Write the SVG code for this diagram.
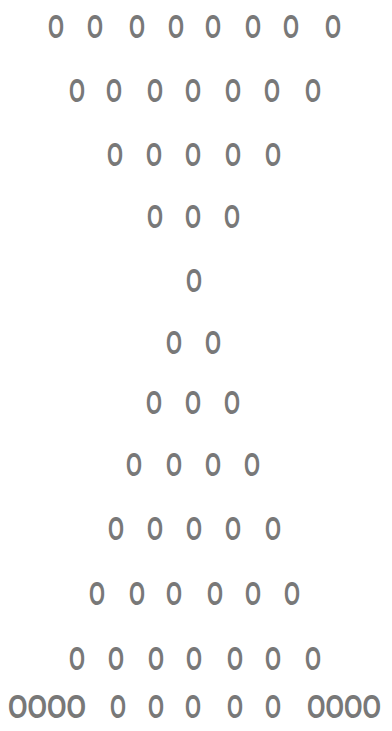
<svg xmlns="http://www.w3.org/2000/svg" width="392" height="731" viewBox="0 0 392 731">
<style>
text{font-family:"Liberation Sans",Arial,sans-serif;font-size:33px;font-weight:bold;fill:#787878;text-anchor:middle}
</style>
<rect width="392" height="731" fill="#ffffff"/>
<g id="row1">
<text x="56" y="38" textLength="16" lengthAdjust="spacingAndGlyphs">O</text>
<text x="95" y="38" textLength="16" lengthAdjust="spacingAndGlyphs">O</text>
<text x="137" y="38" textLength="16" lengthAdjust="spacingAndGlyphs">O</text>
<text x="176" y="38" textLength="16" lengthAdjust="spacingAndGlyphs">O</text>
<text x="213" y="38" textLength="16" lengthAdjust="spacingAndGlyphs">O</text>
<text x="253" y="38" textLength="16" lengthAdjust="spacingAndGlyphs">O</text>
<text x="291" y="38" textLength="16" lengthAdjust="spacingAndGlyphs">O</text>
<text x="333" y="38" textLength="16" lengthAdjust="spacingAndGlyphs">O</text>
</g>
<g id="row2">
<text x="77" y="102" textLength="16" lengthAdjust="spacingAndGlyphs">O</text>
<text x="114" y="102" textLength="16" lengthAdjust="spacingAndGlyphs">O</text>
<text x="155" y="102" textLength="16" lengthAdjust="spacingAndGlyphs">O</text>
<text x="193" y="102" textLength="16" lengthAdjust="spacingAndGlyphs">O</text>
<text x="233" y="102" textLength="16" lengthAdjust="spacingAndGlyphs">O</text>
<text x="272" y="102" textLength="16" lengthAdjust="spacingAndGlyphs">O</text>
<text x="313" y="102" textLength="16" lengthAdjust="spacingAndGlyphs">O</text>
</g>
<g id="row3">
<text x="115" y="166" textLength="16" lengthAdjust="spacingAndGlyphs">O</text>
<text x="154" y="166" textLength="16" lengthAdjust="spacingAndGlyphs">O</text>
<text x="193" y="166" textLength="16" lengthAdjust="spacingAndGlyphs">O</text>
<text x="233" y="166" textLength="16" lengthAdjust="spacingAndGlyphs">O</text>
<text x="273" y="166" textLength="16" lengthAdjust="spacingAndGlyphs">O</text>
</g>
<g id="row4">
<text x="155" y="228" textLength="16" lengthAdjust="spacingAndGlyphs">O</text>
<text x="193" y="228" textLength="16" lengthAdjust="spacingAndGlyphs">O</text>
<text x="232" y="228" textLength="16" lengthAdjust="spacingAndGlyphs">O</text>
</g>
<g id="row5">
<text x="194" y="292" textLength="16" lengthAdjust="spacingAndGlyphs">O</text>
</g>
<g id="row6">
<text x="174" y="354" textLength="16" lengthAdjust="spacingAndGlyphs">O</text>
<text x="213" y="354" textLength="16" lengthAdjust="spacingAndGlyphs">O</text>
</g>
<g id="row7">
<text x="154" y="414" textLength="16" lengthAdjust="spacingAndGlyphs">O</text>
<text x="193" y="414" textLength="16" lengthAdjust="spacingAndGlyphs">O</text>
<text x="232" y="414" textLength="16" lengthAdjust="spacingAndGlyphs">O</text>
</g>
<g id="row8">
<text x="134" y="476" textLength="16" lengthAdjust="spacingAndGlyphs">O</text>
<text x="174" y="476" textLength="16" lengthAdjust="spacingAndGlyphs">O</text>
<text x="213" y="476" textLength="16" lengthAdjust="spacingAndGlyphs">O</text>
<text x="252" y="476" textLength="16" lengthAdjust="spacingAndGlyphs">O</text>
</g>
<g id="row9">
<text x="116" y="540" textLength="16" lengthAdjust="spacingAndGlyphs">O</text>
<text x="155" y="540" textLength="16" lengthAdjust="spacingAndGlyphs">O</text>
<text x="194" y="540" textLength="16" lengthAdjust="spacingAndGlyphs">O</text>
<text x="233" y="540" textLength="16" lengthAdjust="spacingAndGlyphs">O</text>
<text x="273" y="540" textLength="16" lengthAdjust="spacingAndGlyphs">O</text>
</g>
<g id="row10">
<text x="97" y="605" textLength="16" lengthAdjust="spacingAndGlyphs">O</text>
<text x="137" y="605" textLength="16" lengthAdjust="spacingAndGlyphs">O</text>
<text x="174" y="605" textLength="16" lengthAdjust="spacingAndGlyphs">O</text>
<text x="215" y="605" textLength="16" lengthAdjust="spacingAndGlyphs">O</text>
<text x="253" y="605" textLength="16" lengthAdjust="spacingAndGlyphs">O</text>
<text x="292" y="605" textLength="16" lengthAdjust="spacingAndGlyphs">O</text>
</g>
<g id="row11">
<text x="77" y="670" textLength="16" lengthAdjust="spacingAndGlyphs">O</text>
<text x="116" y="670" textLength="16" lengthAdjust="spacingAndGlyphs">O</text>
<text x="156" y="670" textLength="16" lengthAdjust="spacingAndGlyphs">O</text>
<text x="194" y="670" textLength="16" lengthAdjust="spacingAndGlyphs">O</text>
<text x="235" y="670" textLength="16" lengthAdjust="spacingAndGlyphs">O</text>
<text x="273" y="670" textLength="16" lengthAdjust="spacingAndGlyphs">O</text>
<text x="313" y="670" textLength="16" lengthAdjust="spacingAndGlyphs">O</text>
</g>
<g id="row12">
<text transform="translate(47,718) scale(0.76,1)" x="0" y="0">OOOO</text>
<text x="118" y="718" textLength="16" lengthAdjust="spacingAndGlyphs">O</text>
<text x="156" y="718" textLength="16" lengthAdjust="spacingAndGlyphs">O</text>
<text x="193" y="718" textLength="16" lengthAdjust="spacingAndGlyphs">O</text>
<text x="235" y="718" textLength="16" lengthAdjust="spacingAndGlyphs">O</text>
<text x="273" y="718" textLength="16" lengthAdjust="spacingAndGlyphs">O</text>
<text transform="translate(344,718) scale(0.72,1)" x="0" y="0">OOOO</text>
</g>
</svg>
